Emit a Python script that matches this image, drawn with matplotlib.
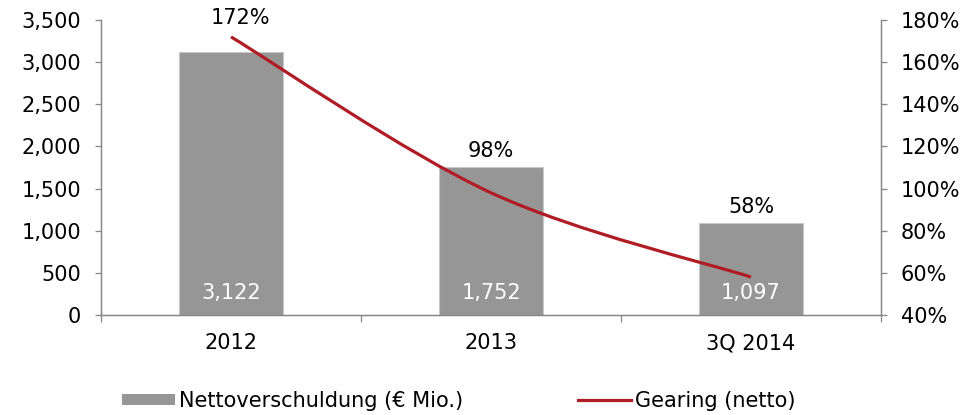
import matplotlib
matplotlib.use("Agg")
import matplotlib.pyplot as plt
from matplotlib.path import Path
from matplotlib.patches import PathPatch, Patch
from matplotlib.lines import Line2D
from matplotlib.ticker import FixedLocator, FuncFormatter


categories = ["2012", "2013", "3Q 2014"]
net_debt = [3122, 1752, 1097]
gearing = [172, 98, 58]

debt_ticks = [0, 500, 1000, 1500, 2000, 2500, 3000, 3500]
gearing_ticks = [40, 60, 80, 100, 120, 140, 160, 180]

BAR_COLOR = "#969696"
LINE_COLOR = "#B01C24"
AXIS_COLOR = "#868686"
FONT_SIZE = 15

plt.rcParams["font.family"] = "DejaVu Sans"


def smooth_path(xs, ys):
    # excel style smoothed line: catmull-rom turned into cubic bezier segments
    pts = list(zip(xs, ys))
    verts = [pts[0]]
    codes = [Path.MOVETO]
    for i in range(len(pts) - 1):
        p0 = pts[max(i - 1, 0)]
        p1 = pts[i]
        p2 = pts[i + 1]
        p3 = pts[min(i + 2, len(pts) - 1)]
        c1 = (p1[0] + (p2[0] - p0[0]) / 6, p1[1] + (p2[1] - p0[1]) / 6)
        c2 = (p2[0] - (p3[0] - p1[0]) / 6, p2[1] - (p3[1] - p1[1]) / 6)
        verts += [c1, c2, p2]
        codes += [Path.CURVE4] * 3
    return Path(verts, codes)


fig = plt.figure(figsize=(9.78, 4.15), dpi=100)
ax = fig.add_axes([0.1033, 0.241, 0.7975, 0.7108])
ax2 = ax.twinx()

x = list(range(len(categories)))
ax.bar(x, net_debt, width=0.4, color=BAR_COLOR, edgecolor="#c8c8c8",
       linewidth=0.8, zorder=2)
ax.set_xlim(-0.5, len(categories) - 0.5)
ax.set_ylim(debt_ticks[0], debt_ticks[-1])
ax2.set_ylim(gearing_ticks[0], gearing_ticks[-1])

ax2.add_patch(PathPatch(smooth_path(x, gearing), facecolor="none",
                        edgecolor=LINE_COLOR, linewidth=2.3,
                        capstyle="butt", zorder=3))

# ticks and spines
ax.set_xticks(x)
ax.set_xticklabels(categories)
ax.xaxis.set_minor_locator(FixedLocator([i - 0.5 for i in range(len(categories) + 1)]))
ax.tick_params(axis="x", which="major", length=0, pad=13, labelsize=FONT_SIZE)
ax.tick_params(axis="x", which="minor", length=5, width=0.9,
               color=AXIS_COLOR, direction="out")

ax.set_yticks(debt_ticks)
ax.yaxis.set_major_formatter(FuncFormatter(lambda v, p: f"{v:,.0f}"))
ax.tick_params(axis="y", length=4.3, width=0.9, color=AXIS_COLOR,
               pad=10, labelsize=FONT_SIZE)

ax2.set_yticks(gearing_ticks)
ax2.yaxis.set_major_formatter(FuncFormatter(lambda v, p: f"{v:.0f}%"))
ax2.tick_params(axis="y", length=4.3, width=0.9, color=AXIS_COLOR,
                pad=10, labelsize=FONT_SIZE)

for a in (ax, ax2):
    a.spines["top"].set_visible(False)
    for side in ("left", "right", "bottom"):
        a.spines[side].set_color(AXIS_COLOR)
        a.spines[side].set_linewidth(0.9)

# value labels
for i, val in enumerate(net_debt):
    ax.annotate(f"{val:,}", (i, 0), xytext=(0, 22), textcoords="offset pixels",
                ha="center", va="center", color="white", fontsize=FONT_SIZE,
                zorder=4)

for i, pct in enumerate(gearing):
    if i == 0:
        ax2.annotate(f"{pct}%", (i, pct), xytext=(9, 19), textcoords="offset pixels",
                     ha="center", va="center", fontsize=FONT_SIZE)
    else:
        ax.annotate(f"{pct}%", (i, net_debt[i]), xytext=(0, 16),
                    textcoords="offset pixels", ha="center", va="center",
                    fontsize=FONT_SIZE)

# legend, two separate entries
bar_handle = Patch(facecolor=BAR_COLOR, edgecolor="none")
line_handle = Line2D([], [], color=LINE_COLOR, linewidth=2.3)
common = dict(loc="center left", frameon=False, fontsize=FONT_SIZE,
              borderpad=0, borderaxespad=0, handlelength=2.55,
              handleheight=0.5, handletextpad=0.2)
fig.legend([bar_handle], ["Nettoverschuldung (€ Mio.)"],
           bbox_to_anchor=(122 / 978, 0.034), **common)
fig.legend([line_handle], ["Gearing (netto)"],
           bbox_to_anchor=(578 / 978, 0.034), **common)

fig.savefig("out.png", dpi=100)
